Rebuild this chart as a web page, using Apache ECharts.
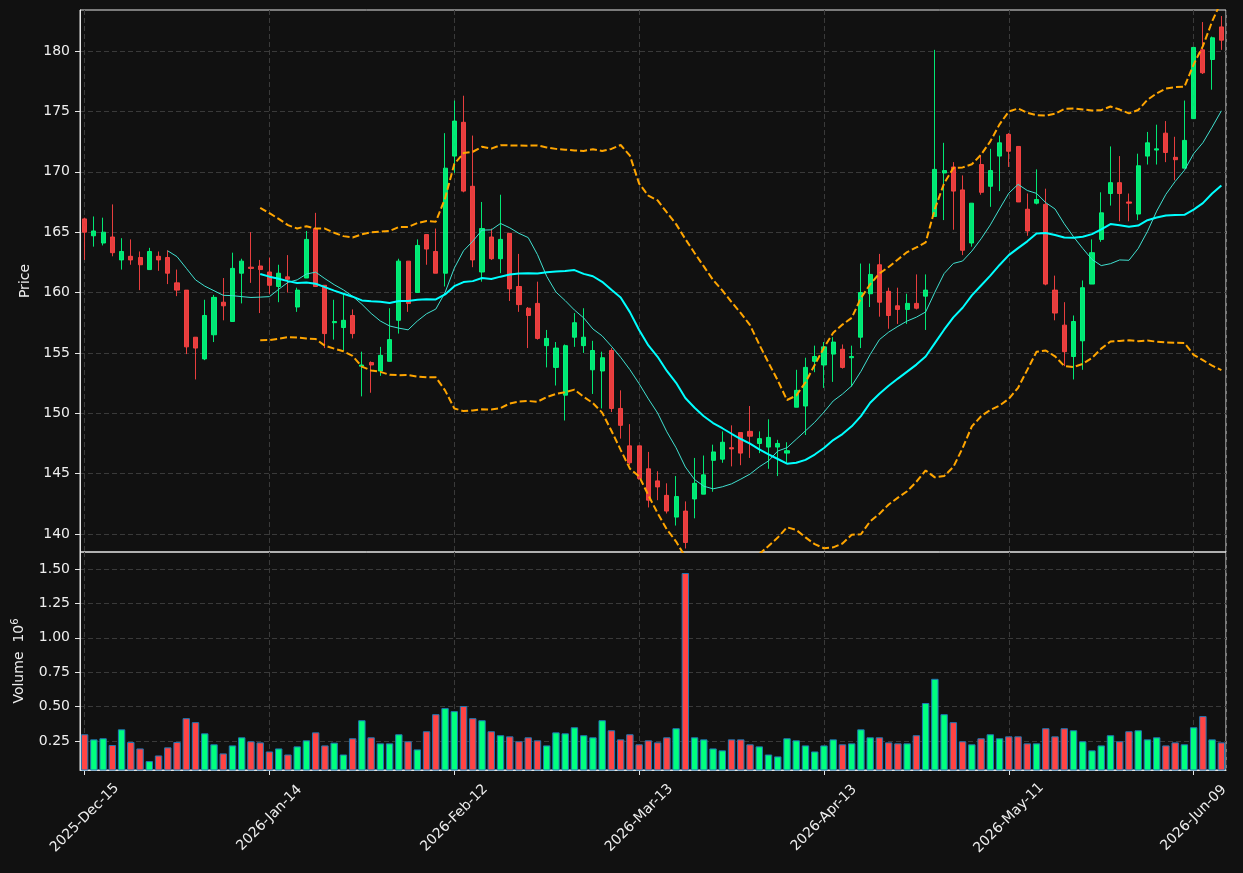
<!DOCTYPE html>
<html>
<head>
<meta charset="utf-8">
<script src="https://cdn.jsdelivr.net/npm/echarts@6/dist/echarts.min.js"></script>
<style>
html, body { margin: 0; padding: 0; background: #111111; }
#chart { width: 1243px; height: 873px; }
</style>
</head>
<body>
<div id="chart"></div>
<script>
// daily bars, exchange sessions starting 2025-12-15
var startDate = '2025-12-15';
var holidays = ['2025-12-25', '2026-01-01', '2026-01-19', '2026-02-16', '2026-04-03', '2026-05-25'];
var nBars = 124;

var opens = [166.1,164.7,164.1,164.6,162.7,163.0,162.9,161.9,163.0,162.9,
  160.8,160.2,156.3,154.5,156.5,159.2,157.6,161.6,162.1,162.2,
  161.7,160.5,161.3,158.8,161.2,165.3,160.6,157.5,157.1,158.1,
  153.9,154.2,153.5,154.3,157.7,162.6,160.0,164.8,163.4,161.6,
  171.3,174.1,168.8,161.7,164.6,162.8,164.9,160.5,158.7,159.1,
  155.6,153.8,151.5,156.3,155.6,153.6,153.5,155.2,150.4,147.3,
  147.3,145.4,144.4,143.2,141.4,141.9,142.9,143.3,146.1,146.2,
  147.15,148.4,148.5,147.5,147.2,147.2,146.7,150.5,150.6,154.3,
  154.0,154.9,155.3,154.6,156.3,159.9,162.3,160.1,158.9,158.6,
  159.1,159.7,166.3,169.9,170.4,168.5,164.1,170.6,168.8,171.3,
  173.1,172.1,166.9,167.4,167.3,160.2,157.3,154.7,156.0,160.7,
  164.4,168.2,169.1,167.5,166.5,171.3,171.8,173.2,171.2,170.3,
  174.4,180.1,179.3,182.0];

var closes = [165.0,165.1,165.0,163.3,163.4,162.7,162.3,163.4,162.7,161.6,
  160.2,155.5,155.4,158.1,159.6,158.9,162.0,162.6,162.0,161.9,
  160.6,161.6,161.1,160.2,164.4,160.5,156.6,157.6,157.7,156.6,
  154.0,154.0,154.8,156.1,162.6,159.1,163.9,163.6,161.6,170.3,
  174.2,168.4,162.7,165.3,162.8,164.4,160.3,159.0,158.1,156.2,
  156.2,155.4,155.6,157.5,156.3,155.2,154.6,150.4,149.0,145.9,
  144.6,142.8,143.9,141.9,143.1,139.3,144.2,144.9,146.8,147.6,
  147.05,146.7,148.1,147.9,148.0,147.5,146.9,151.9,153.8,154.7,
  155.5,155.9,153.8,154.7,160.0,161.5,159.2,158.1,158.6,159.1,
  158.7,160.2,170.2,170.1,168.4,163.5,167.4,168.3,170.1,172.4,
  171.7,167.5,165.1,167.7,160.7,158.3,155.1,157.6,160.4,163.3,
  166.6,169.1,168.2,167.4,170.5,172.4,171.9,171.6,171.0,172.6,
  180.3,178.2,181.1,180.9];

var lows = [162.7,163.8,163.9,163.0,161.9,162.3,160.2,161.9,161.8,160.7,
  159.7,154.9,152.8,154.4,155.9,157.7,157.6,159.1,160.8,158.3,
  159.9,159.2,160.0,158.4,161.2,160.5,155.4,156.1,155.2,156.2,
  151.4,151.7,153.1,154.3,156.6,158.4,160.0,162.3,161.6,160.5,
  169.9,168.3,162.1,160.9,162.7,161.6,159.3,158.4,155.4,156.1,
  153.8,152.3,149.4,155.5,155.0,151.6,150.4,150.1,147.9,145.7,
  144.5,142.2,142.8,141.7,140.7,138.8,141.3,143.3,143.5,145.9,
  145.6,145.7,146.3,146.7,145.4,144.8,145.9,150.5,148.2,153.4,
  152.1,152.6,153.7,152.2,155.4,158.8,158.0,157.0,157.4,157.4,
  158.6,156.9,166.3,166.0,165.2,163.1,163.8,168.1,167.1,168.4,
  170.4,167.5,164.7,167.3,160.6,157.7,153.9,152.8,153.6,160.7,
  164.2,167.2,165.9,165.9,166.0,170.6,170.6,170.8,169.3,170.3,
  174.4,178.1,176.8,180.1];

var highs = [166.2,166.3,166.2,167.3,164.5,164.4,163.4,163.7,163.4,163.5,
  161.9,160.2,156.3,159.4,159.8,161.2,163.3,162.8,165.0,162.7,
  162.9,162.3,163.1,160.4,165.1,166.6,160.6,159.4,159.9,158.6,
  155.1,154.3,155.5,158.7,162.8,162.6,164.4,164.8,165.3,173.2,
  175.9,176.3,173.0,167.5,165.3,168.1,164.9,163.2,158.8,160.9,
  156.9,155.9,155.7,158.3,158.7,156.0,155.1,155.4,151.9,149.1,
  147.3,146.8,145.2,144.2,144.8,142.7,146.3,146.5,147.4,148.5,
  149.0,148.4,150.6,148.5,149.5,147.8,147.6,153.6,154.6,155.6,
  155.9,156.3,155.7,155.6,162.4,162.4,163.2,160.4,160.4,159.9,
  161.5,161.5,180.1,172.4,170.8,169.7,167.4,171.4,171.9,173.0,
  173.2,172.1,168.2,170.2,168.6,161.4,159.2,158.1,161.0,164.4,
  168.3,172.1,171.3,168.2,171.5,173.3,173.9,174.2,172.9,175.9,
  180.3,182.4,181.2,182.9];

// volume in millions of shares
var volumes = [0.299,0.262,0.270,0.221,0.335,0.243,0.196,0.104,0.145,0.204,
  0.243,0.416,0.387,0.306,0.226,0.160,0.218,0.277,0.248,0.240,
  0.174,0.196,0.152,0.211,0.255,0.313,0.218,0.238,0.152,0.270,
  0.401,0.277,0.233,0.233,0.299,0.248,0.189,0.321,0.445,0.489,
  0.467,0.504,0.416,0.401,0.321,0.292,0.284,0.248,0.277,0.255,
  0.218,0.313,0.306,0.350,0.292,0.277,0.401,0.328,0.262,0.299,
  0.226,0.255,0.240,0.277,0.343,1.471,0.277,0.262,0.196,0.182,
  0.262,0.262,0.226,0.211,0.152,0.138,0.270,0.255,0.218,0.174,
  0.218,0.262,0.226,0.233,0.335,0.277,0.277,0.240,0.233,0.233,
  0.292,0.526,0.702,0.445,0.387,0.248,0.226,0.270,0.299,0.270,
  0.284,0.284,0.233,0.233,0.343,0.284,0.343,0.328,0.248,0.182,
  0.218,0.292,0.248,0.321,0.328,0.262,0.277,0.218,0.240,0.226,
  0.350,0.431,0.262,0.240];

var priceTicks = [140, 145, 150, 155, 160, 165, 170, 175, 180];
var volumeTicks = [0.25, 0.5, 0.75, 1.0, 1.25, 1.5];

var months = ['Jan','Feb','Mar','Apr','May','Jun','Jul','Aug','Sep','Oct','Nov','Dec'];

function tradingDays(start, n) {
    var out = [];
    var d = new Date(start + 'T00:00:00Z');
    while (out.length < n) {
        var iso = d.toISOString().slice(0, 10);
        var wd = d.getUTCDay();
        if (wd !== 0 && wd !== 6 && holidays.indexOf(iso) < 0)
            out.push(iso.slice(0, 4) + '-' + months[d.getUTCMonth()] + '-' + iso.slice(8, 10));
        d.setUTCDate(d.getUTCDate() + 1);
    }
    return out;
}

function sma(arr, n) {
    var res = [];
    for (var i = 0; i < arr.length; i++) {
        if (i < n - 1) { res.push('-'); continue; }
        var s = 0;
        for (var j = i - n + 1; j <= i; j++) s += arr[j];
        res.push(+(s / n).toFixed(3));
    }
    return res;
}

function bollinger(arr, n, k) {
    var up = [], lo = [];
    for (var i = 0; i < arr.length; i++) {
        if (i < n - 1) { up.push('-'); lo.push('-'); continue; }
        var s = 0, q = 0;
        for (var j = i - n + 1; j <= i; j++) s += arr[j];
        var m = s / n;
        for (j = i - n + 1; j <= i; j++) q += (arr[j] - m) * (arr[j] - m);
        var sd = Math.sqrt(q / n);
        up.push(+(m + k * sd).toFixed(3));
        lo.push(+(m - k * sd).toFixed(3));
    }
    return [up, lo];
}

var dates = tradingDays(startDate, nBars);
var ma10 = sma(closes, 10);
var ma20 = sma(closes, 20);
var bb = bollinger(closes, 20, 2);

var candleData = [];
var volData = [];
for (var i = 0; i < nBars; i++) {
    candleData.push([opens[i], closes[i], lows[i], highs[i]]);
    volData.push({
        value: volumes[i],
        itemStyle: { color: closes[i] >= opens[i] ? '#00ff7f' : '#ff4444' }
    });
}

var textColor = '#eeeeee';
var frameColor = '#e6e6e6';
var gridColor = '#3a3a3a';

function onStep(v, step) {
    var r = v / step;
    return Math.abs(r - Math.round(r)) < 1e-6;
}

var myChart = echarts.init(document.getElementById('chart'));

var option = {
    backgroundColor: '#111111',
    animation: false,
    textStyle: { fontFamily: 'DejaVu Sans' },
    grid: [
        { left: 80, top: 10, width: 1146, height: 542, show: true, borderColor: frameColor, borderWidth: 1 },
        { left: 80, top: 552, width: 1146, height: 218, show: true, borderColor: frameColor, borderWidth: 1 }
    ],
    xAxis: [
        { type: 'category', gridIndex: 0, data: dates, boundaryGap: true, show: false },
        {
            type: 'value', gridIndex: 0, min: -0.5, max: nBars - 0.5, minInterval: 20, maxInterval: 20,
            axisLine: { show: false, onZero: false }, axisTick: { show: false }, axisLabel: { show: false },
            splitLine: { show: true, lineStyle: { color: gridColor, type: [5, 3], width: 1 } }
        },
        {
            type: 'category', gridIndex: 1, data: dates, boundaryGap: true,
            axisLine: { show: true, onZero: false, lineStyle: { color: frameColor } },
            axisTick: { show: true, interval: 19, alignWithLabel: true, length: 5, lineStyle: { color: frameColor } },
            axisLabel: {
                interval: 19, rotate: 45, align: 'center', verticalAlign: 'middle',
                color: textColor, fontSize: 14, margin: 48
            },
            splitLine: { show: false }
        },
        {
            type: 'value', gridIndex: 1, min: -0.5, max: nBars - 0.5, minInterval: 20, maxInterval: 20,
            axisLine: { show: false, onZero: false }, axisTick: { show: false }, axisLabel: { show: false },
            splitLine: { show: true, lineStyle: { color: gridColor, type: [5, 3], width: 1 } }
        }
    ],
    yAxis: [
        {
            type: 'value', gridIndex: 0, position: 'left', min: 138.51, max: 183.4,
            minInterval: 5, maxInterval: 5, splitNumber: 9,
            name: 'Price', nameLocation: 'middle', nameGap: 44, nameRotate: 90,
            nameTextStyle: { color: textColor, fontSize: 14 },
            axisLine: { show: true, onZero: false, lineStyle: { color: frameColor } },
            axisTick: { show: true, length: 5, customValues: priceTicks, lineStyle: { color: frameColor } },
            axisLabel: {
                color: textColor, fontSize: 14, margin: 10, customValues: priceTicks,
                formatter: function (v) { return onStep(v, 5) ? String(Math.round(v)) : ''; }
            },
            splitLine: { show: true, lineStyle: { color: gridColor, type: [5, 3], width: 1 } }
        },
        {
            type: 'value', gridIndex: 1, position: 'left', min: 0.0393, max: 1.6235,
            minInterval: 0.25, maxInterval: 0.25, splitNumber: 6,
            name: '{a|Volume  10}{s|6}', nameLocation: 'middle', nameGap: 52, nameRotate: 90,
            nameTextStyle: {
                color: textColor, fontSize: 14,
                rich: {
                    a: { color: textColor, fontSize: 14, lineHeight: 18 },
                    s: { color: textColor, fontSize: 10, verticalAlign: 'top', lineHeight: 18 }
                }
            },
            axisLine: { show: true, onZero: false, lineStyle: { color: frameColor } },
            axisTick: { show: true, length: 5, customValues: volumeTicks, lineStyle: { color: frameColor } },
            axisLabel: {
                color: textColor, fontSize: 14, margin: 10, customValues: volumeTicks,
                formatter: function (v) { return onStep(v, 0.25) ? v.toFixed(2) : ''; }
            },
            splitLine: { show: true, lineStyle: { color: gridColor, type: [5, 3], width: 1 } }
        }
    ],
    series: [
        {
            name: 'OHLC', type: 'candlestick', xAxisIndex: 0, yAxisIndex: 0,
            data: candleData, barWidth: 4.6,
            itemStyle: {
                color: 'rgba(0,255,127,0.9)', color0: 'rgba(255,68,68,0.9)',
                borderColor: 'rgba(0,255,127,0.9)', borderColor0: 'rgba(255,68,68,0.9)',
                borderWidth: 1
            }
        },
        {
            name: 'MA10', type: 'line', xAxisIndex: 0, yAxisIndex: 0, data: ma10,
            symbol: 'none', lineStyle: { color: '#40e0d0', width: 1 }
        },
        {
            name: 'MA20', type: 'line', xAxisIndex: 0, yAxisIndex: 0, data: ma20,
            symbol: 'none', lineStyle: { color: '#00ffff', width: 2 }
        },
        {
            name: 'BB upper', type: 'line', xAxisIndex: 0, yAxisIndex: 0, data: bb[0],
            symbol: 'none', lineStyle: { color: '#ffa500', width: 2, type: [7, 3] }
        },
        {
            name: 'BB lower', type: 'line', xAxisIndex: 0, yAxisIndex: 0, data: bb[1],
            symbol: 'none', lineStyle: { color: '#ffa500', width: 2, type: [7, 3] }
        },
        {
            name: 'Volume', type: 'bar', xAxisIndex: 2, yAxisIndex: 1, data: volData,
            barWidth: 7.4,
            itemStyle: { borderColor: '#1f77b4', borderWidth: 1 }
        }
    ]
};

myChart.setOption(option);
</script>
</body>
</html>
